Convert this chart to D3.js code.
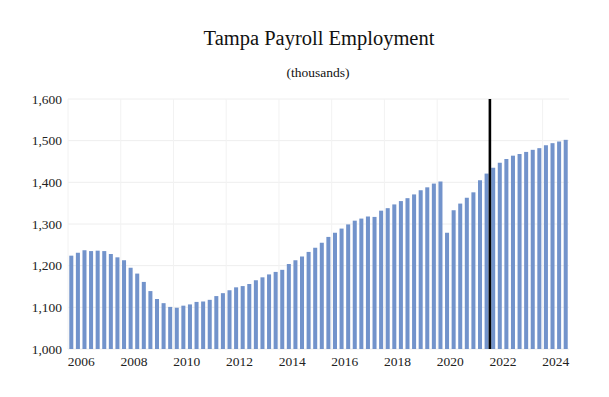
<!DOCTYPE html>
<html>
<head>
<meta charset="utf-8">
<script src="https://cdn.jsdelivr.net/npm/d3@7"></script>
<style>
  html, body { margin: 0; padding: 0; background: #ffffff; }
  svg { display: block; }
</style>
</head>
<body>
<svg id="chart" width="609" height="397"></svg>
<script>
// ---- Data (thousands of jobs, quarterly) ----
const years = d3.range(2006, 2025);
const quarters = ["Q1", "Q2", "Q3", "Q4"];
const categories = years.flatMap(y => quarters.map(q => y + q));
const employment = [
  1224, 1231, 1237, 1235,   // 2006
  1236, 1235, 1228, 1220,   // 2007
  1213, 1195, 1181, 1161,   // 2008
  1139, 1120, 1110, 1101,   // 2009
  1099, 1104, 1107, 1113,   // 2010
  1114, 1118, 1127, 1134,   // 2011
  1141, 1148, 1151, 1156,   // 2012
  1165, 1172, 1179, 1185,   // 2013
  1190, 1204, 1213, 1222,   // 2014
  1233, 1243, 1255, 1269,   // 2015
  1279, 1289, 1299, 1308,   // 2016
  1313, 1318, 1317, 1332,   // 2017
  1338, 1347, 1355, 1362,   // 2018
  1371, 1381, 1388, 1397,   // 2019
  1402, 1279, 1333, 1349,   // 2020
  1363, 1376, 1405, 1421,   // 2021
  1435, 1447, 1456, 1464,   // 2022
  1468, 1473, 1478, 1482,   // 2023
  1489, 1494, 1498, 1502    // 2024
];
const yTicks = [1000, 1100, 1200, 1300, 1400, 1500, 1600];
const xLabelYears = [2006, 2008, 2010, 2012, 2014, 2016, 2018, 2020, 2022, 2024];
const forecastStart = "2022Q1";
const titleText = "Tampa Payroll Employment";
const subtitleText = "(thousands)";

// ---- Layout ----
const svg = d3.select("#chart");
const plot = { left: 68, right: 569, top: 99, bottom: 349 };
const pad = 0.39;

const x = d3.scaleBand()
  .domain(categories)
  .range([plot.left, plot.right])
  .paddingInner(pad)
  .paddingOuter(pad / 2);

const y = d3.scaleLinear()
  .domain([1000, 1600])
  .range([plot.bottom, plot.top]);

const step = x.step();
const boundary = c => x(c) - step * pad / 2;   // left edge of a category slot

// gridlines
const grid = svg.append("g").attr("class", "grid");
grid.selectAll("line.h")
  .data(yTicks)
  .join("line")
  .attr("x1", plot.left).attr("x2", plot.right)
  .attr("y1", d => y(d)).attr("y2", d => y(d))
  .attr("stroke", "#eeeeee").attr("stroke-width", 1);
grid.selectAll("line.v")
  .data(xLabelYears)
  .join("line")
  .attr("x1", d => boundary(d + "Q1")).attr("x2", d => boundary(d + "Q1"))
  .attr("y1", plot.top).attr("y2", plot.bottom)
  .attr("stroke", "#f2f2f2").attr("stroke-width", 1);

// bars
svg.append("g")
  .selectAll("rect")
  .data(categories.map((c, i) => ({ c, v: employment[i] })))
  .join("rect")
  .attr("x", d => x(d.c))
  .attr("width", x.bandwidth())
  .attr("y", d => y(d.v))
  .attr("height", d => y(1000) - y(d.v))
  .attr("fill", "#7293cb");

// forecast marker line
svg.append("line")
  .attr("x1", boundary(forecastStart)).attr("x2", boundary(forecastStart))
  .attr("y1", y(1600)).attr("y2", y(1000))
  .attr("stroke", "#000").attr("stroke-width", 2.6);

// y axis labels
const yAxis = d3.axisLeft(y)
  .tickValues(yTicks)
  .tickSize(0)
  .tickPadding(6)
  .tickFormat(d3.format(","));
svg.append("g")
  .attr("transform", `translate(${plot.left},0)`)
  .call(yAxis)
  .call(g => g.select(".domain").remove())
  .call(g => g.selectAll("text")
    .attr("font-family", "'Liberation Serif', 'Times New Roman', serif")
    .attr("font-size", "13.5px")
    .attr("fill", "#222"));

// x axis labels (centered on each labelled year)
const xAxis = d3.axisBottom(x)
  .tickValues(xLabelYears.map(yv => yv + "Q2"))
  .tickSize(0)
  .tickPadding(7)
  .tickFormat(d => d.slice(0, 4));
svg.append("g")
  .attr("transform", `translate(${step / 2},${plot.bottom})`)
  .call(xAxis)
  .call(g => g.select(".domain").remove())
  .call(g => g.selectAll("text")
    .attr("font-family", "'Liberation Serif', 'Times New Roman', serif")
    .attr("font-size", "13.5px")
    .attr("fill", "#222"));

// titles
svg.append("text")
  .attr("x", 319).attr("y", 45)
  .attr("text-anchor", "middle")
  .attr("font-family", "'Liberation Serif', 'Times New Roman', serif")
  .attr("font-size", "20.5px")
  .attr("fill", "#111")
  .text(titleText);
svg.append("text")
  .attr("x", 318).attr("y", 77)
  .attr("text-anchor", "middle")
  .attr("font-family", "'Liberation Serif', 'Times New Roman', serif")
  .attr("font-size", "13.5px")
  .attr("fill", "#111")
  .text(subtitleText);
</script>
</body>
</html>
